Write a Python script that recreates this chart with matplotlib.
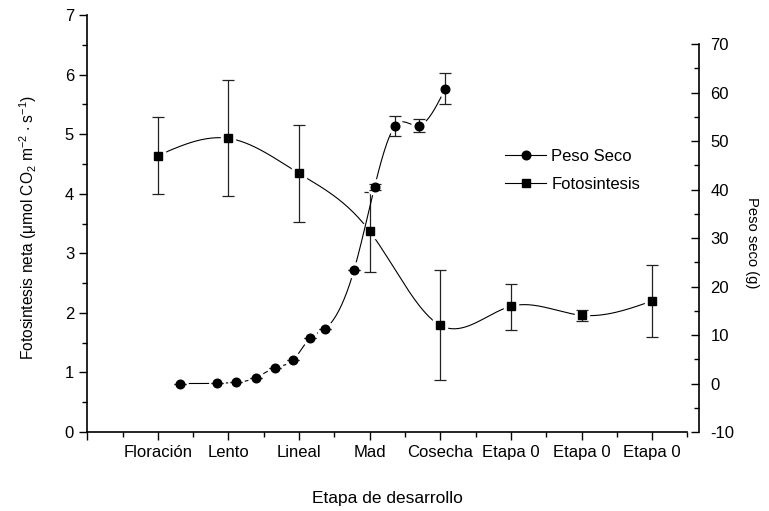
import numpy as np
import matplotlib
matplotlib.use('Agg')
import matplotlib.pyplot as plt
from matplotlib.ticker import MultipleLocator, FixedLocator
from matplotlib.lines import Line2D

plt.rcParams['font.family'] = ['Liberation Sans', 'DejaVu Sans']
plt.rcParams['mathtext.fontset'] = 'custom'
plt.rcParams['mathtext.rm'] = 'Liberation Sans'
plt.rcParams['mathtext.it'] = 'Liberation Sans'
plt.rcParams['mathtext.default'] = 'regular'
plt.rcParams['axes.unicode_minus'] = False

# datos
etapas = ['Floración', 'Lento', 'Lineal', 'Mad', 'Cosecha', 'Etapa 0', 'Etapa 0', 'Etapa 0']
x_foto = [1, 2, 3, 4, 5, 6, 7, 8]
foto = [4.64, 4.93, 4.34, 3.37, 1.79, 2.11, 1.96, 2.20]
foto_lo = [4.00, 3.96, 3.53, 2.69, 0.87, 1.71, 1.87, 1.60]
foto_hi = [5.28, 5.91, 5.15, 4.03, 2.72, 2.49, 2.04, 2.80]

x_peso = [1.32, 1.84, 2.11, 2.39, 2.66, 2.92, 3.15, 3.36, 3.78, 4.07, 4.36, 4.70, 5.07]
peso = [0.0, 0.05, 0.25, 1.2, 3.3, 4.9, 9.3, 11.2, 23.5, 40.6, 53.1, 53.2, 60.8]
peso_err = [0, 0, 0, 0, 0, 0, 0, 0, 0, 0.6, 2.0, 1.3, 3.2]


def natural_spline(x, y, n=300):
    # spline cubica natural para dibujar la curva suave
    x = np.asarray(x, float)
    y = np.asarray(y, float)
    m = len(x)
    h = np.diff(x)
    A = np.zeros((m, m))
    b = np.zeros(m)
    A[0, 0] = 1
    A[-1, -1] = 1
    for i in range(1, m - 1):
        A[i, i - 1] = h[i - 1]
        A[i, i] = 2 * (h[i - 1] + h[i])
        A[i, i + 1] = h[i]
        b[i] = 6 * ((y[i + 1] - y[i]) / h[i] - (y[i] - y[i - 1]) / h[i - 1])
    M = np.linalg.solve(A, b)
    xs = np.linspace(x[0], x[-1], n)
    idx = np.clip(np.searchsorted(x, xs) - 1, 0, m - 2)
    x0, x1 = x[idx], x[idx + 1]
    hh = x1 - x0
    t0 = x1 - xs
    t1 = xs - x0
    ys = (M[idx] * t0 ** 3 + M[idx + 1] * t1 ** 3) / (6 * hh) \
        + (y[idx] / hh - M[idx] * hh / 6) * t0 \
        + (y[idx + 1] / hh - M[idx + 1] * hh / 6) * t1
    return xs, ys


fig = plt.figure(figsize=(7.69, 5.11), dpi=100)
ax = fig.add_axes([0.1135, 0.1546, 0.8939 - 0.1135, 0.9706 - 0.1546])
ax2 = ax.twinx()

ax.set_xlim(0, 8.5)
ax.set_ylim(0, 7)
ax2.set_ylim(-10, 76)

# curvas
xs, ys = natural_spline(x_foto, foto)
ax.plot(xs, ys, color='black', lw=0.8, zorder=1)
xs, ys = natural_spline(x_peso, peso)
ax2.plot(xs, ys, color='black', lw=0.8, zorder=1)

# huecos blancos alrededor de los marcadores
ax.plot(x_foto, foto, 's', ms=9.5, color='white', zorder=2)
ax2.plot(x_peso, peso, 'o', ms=11, color='white', zorder=2)

# barras de error
yerr = [np.array(foto) - np.array(foto_lo), np.array(foto_hi) - np.array(foto)]
ax.errorbar(x_foto, foto, yerr=yerr, fmt='none', ecolor='#222222', elinewidth=0.9,
            capsize=4, capthick=0.9, zorder=3)
ax2.errorbar(x_peso, peso, yerr=peso_err, fmt='none', ecolor='#222222', elinewidth=0.9,
             capsize=4, capthick=0.9, zorder=3)

ax.plot(x_foto, foto, 's', ms=5.5, color='black', zorder=4)
ax2.plot(x_peso, peso, 'o', ms=6.2, color='black', zorder=4)

# ejes
ax.spines['top'].set_visible(False)
ax.spines['right'].set_visible(False)
ax2.spines['top'].set_visible(False)
ax2.spines['left'].set_visible(False)
ax2.spines['bottom'].set_visible(False)
ax2.spines['right'].set_position(('outward', 8.6))
ax2.spines['right'].set_bounds(-10, 70)
ax.spines['left'].set_linewidth(1.2)
ax.spines['bottom'].set_linewidth(1.2)
ax2.spines['right'].set_linewidth(1.2)

ax.xaxis.set_major_locator(FixedLocator(range(0, 9)))
ax.set_xticklabels([''] + etapas)
ax.xaxis.set_minor_locator(MultipleLocator(0.5))
ax.yaxis.set_major_locator(MultipleLocator(1))
ax.yaxis.set_minor_locator(MultipleLocator(0.5))
ax.tick_params(which='major', direction='out', length=6, width=1, labelsize=12)
ax.tick_params(which='minor', direction='out', length=3.5, width=1)

ax2.yaxis.set_major_locator(FixedLocator(range(-10, 71, 10)))
ax2.yaxis.set_minor_locator(FixedLocator(range(-5, 70, 10)))
ax2.tick_params(which='major', direction='in', length=6, width=1, labelsize=12, pad=8)
ax2.tick_params(which='minor', direction='in', length=3.5, width=1)

ax.set_xlabel('Etapa de desarrollo', fontsize=12.5, labelpad=22)
ax.set_ylabel(r'Fotosintesis neta ($\mu$mol CO$_2$ m$^{-2}$ $\cdot$ s$^{-1}$)', fontsize=11.2)
ax.yaxis.set_label_coords(-0.08, 0.49)
ax2.set_ylabel('Peso seco (g)', fontsize=10.6, rotation=-90, va='center')
ax2.yaxis.set_label_coords(1.108, 0.455)

handles = [
    Line2D([], [], color='black', lw=0.8, marker='o', ms=6.2),
    Line2D([], [], color='black', lw=0.8, marker='s', ms=5.5),
]
fig.legend(handles, ['Peso Seco', 'Fotosintesis'], loc='upper left',
           bbox_to_anchor=(498 / 769, 1 - 142 / 511), frameon=False, fontsize=12,
           handlelength=2.5, handletextpad=0.3, labelspacing=0.8, borderaxespad=0)

fig.savefig('out.png', dpi=100)
